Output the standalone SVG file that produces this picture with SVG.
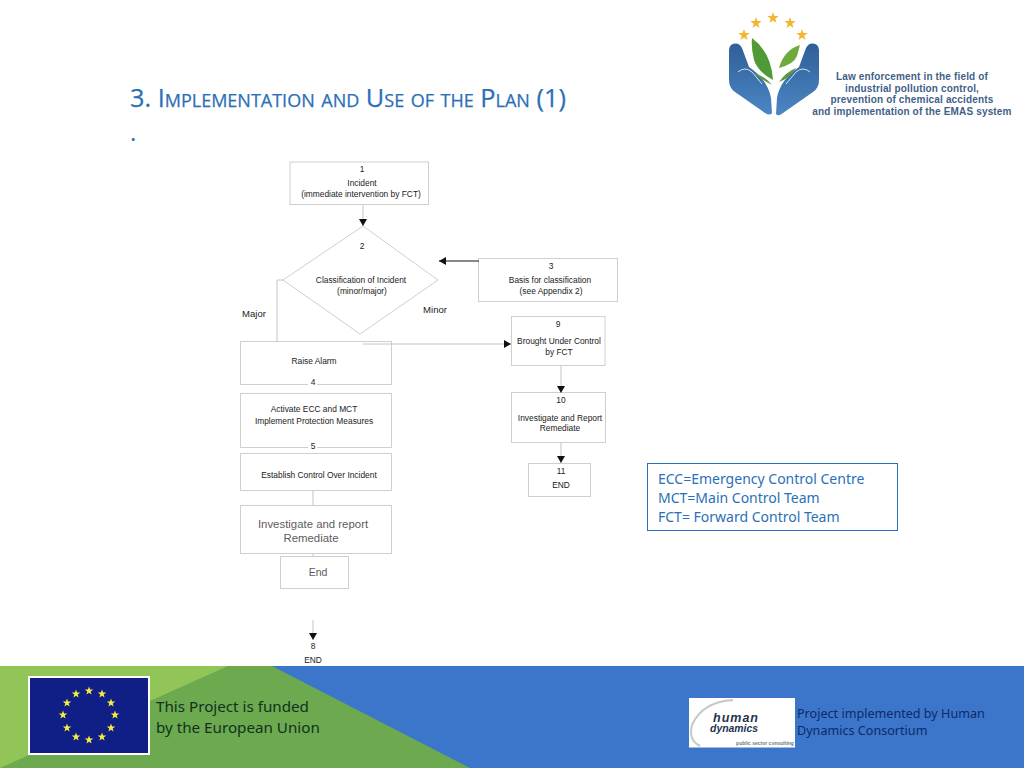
<svg xmlns="http://www.w3.org/2000/svg" xmlns:xlink="http://www.w3.org/1999/xlink" width="1024" height="768" viewBox="0 0 1024 768">
<style>
text{font-family:"Liberation Sans",Arial,sans-serif;fill:#222;text-anchor:middle}
.s{font-size:8.4px}
.m{font-size:9.5px}
.g{font-size:11.4px;fill:#5f5a60}
.b{fill:#fff;stroke:#cfcfcf;stroke-width:1}
.c{fill:none;stroke:#c4c4c4;stroke-width:1}
.k{fill:none;stroke:#111;stroke-width:1}
.foot{font-family:"Noto Sans","Open Sans",sans-serif;text-anchor:start;font-size:15.2px;fill:#10321f}
.foot2{font-family:"Noto Sans","Open Sans",sans-serif;text-anchor:start;font-size:12.6px;fill:#0f2a66}
.leg{font-family:"Noto Sans","Open Sans",sans-serif;text-anchor:start;font-size:14px;fill:#2a70b8}
.lt{font-weight:700;font-size:10px;letter-spacing:.16px;fill:#3f5f88}
</style>
<defs>
<marker id="arr" markerWidth="8" markerHeight="8" refX="7" refY="4" orient="auto" markerUnits="userSpaceOnUse"><path d="M0 0L7 4L0 8Z" fill="#111"/></marker>
<polygon id="st" points="0,-4.5 1.1,-1.4 4.3,-1.4 1.7,.5 2.6,3.6 0,1.8 -2.6,3.6 -1.7,.5 -4.3,-1.4 -1.1,-1.4"/>
<polygon id="st2" points="0,-6 1.4,-1.9 5.7,-1.9 2.3,.7 3.5,4.9 0,2.4 -3.5,4.9 -2.3,.7 -5.7,-1.9 -1.4,-1.9"/>
<linearGradient id="hand" x1="0" y1="0" x2="0" y2="1"><stop offset="0" stop-color="#2f5f98"/><stop offset="1" stop-color="#4c86c4"/></linearGradient>
</defs>
<rect width="1024" height="768" fill="#fff"/>
<text id="title" x="130" y="107" style="font-family:'Open Sans','Noto Sans',sans-serif;text-anchor:start;font-size:25.3px;font-variant:small-caps;fill:#2a70b8;stroke:#2a70b8;stroke-width:.25px">3. Implementation and Use of the Plan (1)</text>
<text id="dot" x="130" y="141" style="font-family:'Open Sans',sans-serif;text-anchor:start;font-size:24px;fill:#2a70b8">.</text>

<g id="logo">
<g fill="#f2b632"><use xlink:href="#st2" x="744" y="35"/><use xlink:href="#st2" x="756" y="23"/><use xlink:href="#st2" x="773" y="18"/><use xlink:href="#st2" x="790" y="23"/><use xlink:href="#st2" x="802" y="35"/></g>
<path d="M731 45Q738 41 742 48L749 67Q768 80 771 98L772 113Q770 116 765 113L735 92Q729 88 729 80V50Q729 47 731 45Z" fill="url(#hand)"/>
<path d="M817 45Q810 41 806 48L799 67Q780 80 777 98L776 114Q778 117 783 113L813 92Q819 88 819 80V50Q819 47 817 45Z" fill="url(#hand)"/>
<path d="M738 72Q745 66 752 72L762 84M810 72Q803 66 796 72L786 84" fill="none" stroke="#d5e2f0" stroke-width="1"/>
<path d="M752 38Q771 52 773 80Q758 72 754 60Q751 48 752 38Z" fill="#4f9a35"/>
<path d="M800 45Q784 50 779 68Q794 64 797 56Z" fill="#6cab3c"/>
<path d="M753 73Q764 75 772 85Q762 80 753 73ZM796 68Q786 72 779 82Q790 78 796 68Z" fill="#5a9a3a"/>
<text class="lt" x="912" y="80">Law enforcement in the field of</text>
<text class="lt" x="912" y="91.700">industrial pollution control,</text>
<text class="lt" x="912" y="103.400">prevention of chemical accidents</text>
<text class="lt" x="912" y="115.100">and implementation of the EMAS system</text>
</g>

<g id="n1"><rect class="b" x="290" y="162" width="138.500" height="42.500"/><text class="s" x="362" y="172">1</text><text class="s" x="362" y="186">Incident</text><text class="s" x="361" y="197">(immediate intervention by FCT)</text></g>
<g id="n2"><path class="b" d="M363 226L438 280L360 334L283 280Z"/><text class="s" x="362" y="249">2</text><text class="s" x="361" y="283">Classification of Incident</text><text class="s" x="362" y="294">(minor/major)</text></g>
<g id="n3"><rect class="b" x="478.500" y="258.500" width="139" height="43"/><text class="s" x="551" y="269">3</text><text class="s" x="550" y="283">Basis for classification</text><text class="s" x="551" y="294">(see Appendix 2)</text></g>
<text id="major" class="m" x="254" y="317">Major</text>
<text id="minor" class="m" x="435" y="313">Minor</text>
<g id="n9"><rect class="b" x="511.500" y="316.500" width="93.500" height="49"/><text class="s" x="558" y="327">9</text><text class="s" x="559" y="344">Brought Under Control</text><text class="s" x="559" y="355">by FCT</text></g>
<g id="n4"><rect class="b" x="240.500" y="341.500" width="151" height="43"/><text class="s" x="314" y="364">Raise Alarm</text><rect x="308" y="379" width="9" height="10" fill="#fff"/><text class="s" x="313" y="385">4</text></g>
<g id="n5"><rect class="b" x="240.500" y="393.500" width="151" height="54"/><text class="s" x="314" y="412">Activate ECC and MCT</text><text class="s" x="314" y="424">Implement Protection Measures</text><rect x="308" y="442" width="9" height="9" fill="#fff"/><text class="s" x="313" y="449">5</text></g>
<g id="n6"><rect class="b" x="240.500" y="453.500" width="151" height="37"/><text class="s" x="319" y="477.500">Establish Control Over Incident</text></g>
<g id="n7"><rect class="b" x="240.500" y="505.500" width="151" height="48"/><text class="g" x="313" y="528">Investigate and report</text><text class="g" x="311" y="542">Remediate</text></g>
<g id="nEnd"><rect class="b" x="280.500" y="556.500" width="68" height="32"/><text class="g" x="318" y="576" style="font-size:10.500px">End</text></g>
<g id="n8"><text class="s" x="313" y="649">8</text><text class="s" x="313" y="663">END</text></g>
<g id="n10"><rect class="b" x="511.500" y="392.500" width="94" height="50"/><text class="s" x="561" y="403">10</text><text class="s" x="560" y="421">Investigate and Report</text><text class="s" x="560" y="431">Remediate</text></g>
<g id="n11"><rect class="b" x="528.500" y="463.500" width="62" height="33"/><text class="s" x="561" y="474">11</text><text class="s" x="561" y="488">END</text></g>
<g id="legend"><rect x="647.500" y="463.500" width="250" height="67" fill="#fff" stroke="#2a70b8"/><text class="leg" x="658" y="484">ECC=Emergency Control Centre</text><text class="leg" x="658" y="503">MCT=Main Control Team</text><text class="leg" x="658" y="522">FCT= Forward Control Team</text></g>

<g id="connectors">
<path class="c" d="M363 205V226" marker-end="url(#arr)"/>
<path class="k" d="M479 261H439" marker-end="url(#arr)"/>
<path class="c" d="M284 280H277V342"/>
<path class="c" d="M363 344H511" marker-end="url(#arr)"/>
<path class="c" d="M561 366V393" marker-end="url(#arr)"/>
<path class="c" d="M561 443V463" marker-end="url(#arr)"/>
<path class="c" d="M313 491V505M313 554V557"/>
<path class="c" d="M313 620V640" marker-end="url(#arr)"/>
</g>

<g id="footer">
<rect y="666" width="1024" height="102" fill="#3b76cb"/>
<path d="M0 666H272L470 768H0Z" fill="#6ca94f"/>
<path d="M0 666H228L0 768Z" fill="#92c557"/>
<rect x="29" y="677" width="120" height="77" fill="#0f1f85" stroke="#fff" stroke-width="2"/>
<g fill="#f6ec3f"><use xlink:href="#st" x="89" y="691"/><use xlink:href="#st" x="102" y="694"/><use xlink:href="#st" x="111" y="703"/><use xlink:href="#st" x="115" y="715"/><use xlink:href="#st" x="111" y="728"/><use xlink:href="#st" x="102" y="737"/><use xlink:href="#st" x="89" y="740"/><use xlink:href="#st" x="76" y="737"/><use xlink:href="#st" x="67" y="728"/><use xlink:href="#st" x="63" y="715"/><use xlink:href="#st" x="67" y="703"/><use xlink:href="#st" x="76" y="694"/></g>
<text class="foot" x="156" y="712">This Project is funded</text>
<text class="foot" x="156" y="733">by the European Union</text>
<rect x="689" y="698" width="106" height="49.500" fill="#fff"/>
<path d="M733 700Q702 702 692 725Q688 740 700 746" fill="none" stroke="#c8c8c8" stroke-width="2"/>
<text x="736" y="722" style="font-family:'Liberation Sans',sans-serif;font-weight:700;font-style:italic;font-size:12.500px;fill:#22344f;letter-spacing:1px">human</text>
<text x="734" y="732" style="font-family:'Liberation Sans',sans-serif;font-weight:700;font-style:italic;font-size:10.400px;fill:#22344f">dynamics</text>
<text x="765" y="745" style="font-family:'Liberation Sans',sans-serif;font-weight:700;font-size:5px;fill:#6a7a80">public sector consulting</text>
<text class="foot2" x="797" y="718">Project implemented by Human</text>
<text class="foot2" x="797" y="735">Dynamics Consortium</text>
</g>
</svg>
